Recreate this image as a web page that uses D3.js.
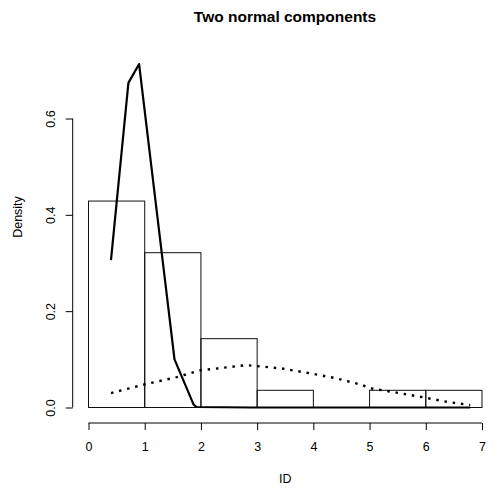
<!DOCTYPE html>
<html>
<head>
<meta charset="utf-8">
<script src="https://cdn.jsdelivr.net/npm/d3@7"></script>
<style>
  html, body { margin: 0; padding: 0; background: #fff; }
  svg { display: block; }
  text { font-family: "Liberation Sans", Arial, Helvetica, sans-serif; fill: #000; }
</style>
</head>
<body>
<svg id="chart" width="497" height="492"></svg>
<script>
// ---- data ----
const title = "Two normal components";
const xLabel = "ID";
const yLabel = "Density";
const binEdges = [0, 1, 2, 3, 4, 5, 6, 7];
const binDensity = [0.4286, 0.3214, 0.1429, 0.0357, 0, 0.0357, 0.0357];
const xTicks = [0, 1, 2, 3, 4, 5, 6, 7];
const yTicks = [0.0, 0.2, 0.4, 0.6];
const yTickLabels = ["0.0", "0.2", "0.4", "0.6"];
// first component (solid)
const solidX = [0.40, 0.71, 0.90, 1.53, 1.87, 1.92, 2.9, 3.6, 5.1, 6.0, 6.79];
const solidY = [0.306, 0.674, 0.713, 0.100, 0.006, 0.001, 0, 0, 0, 0, 0];
// second component (dotted)
const dottedX = [0.40, 1.00, 1.57, 1.98, 2.81, 3.44, 3.94, 4.39, 4.86, 5.01, 5.48, 5.96, 6.37, 6.79];
const dottedY = [0.030, 0.048, 0.063, 0.077, 0.088, 0.081, 0.071, 0.061, 0.047, 0.040, 0.031, 0.021, 0.012, 0.005];

// ---- layout ----
const svg = d3.select("#chart");
const x = d3.scaleLinear().domain([0, 7]).range([88.5, 482]);
const y = d3.scaleLinear().domain([0, 0.6]).range([407.5, 118.5]);
const axisY = 423;      // x-axis line position
const axisX = 72.7;     // y-axis line position
const plotLeft = 72.7, plotRight = 498;

// histogram bars
const bins = binDensity.map((d, i) => ({ x0: binEdges[i], x1: binEdges[i + 1], d }));
svg.append("g").selectAll("rect").data(bins).join("rect")
  .attr("x", b => x(b.x0))
  .attr("y", b => y(b.d))
  .attr("width", b => x(b.x1) - x(b.x0))
  .attr("height", b => y(0) - y(b.d))
  .attr("fill", "none")
  .attr("stroke", "#111")
  .attr("stroke-width", 1);

// curves
const line = d3.line().x(d => x(d[0])).y(d => y(d[1]));
svg.append("path")
  .datum(solidX.map((v, i) => [v, solidY[i]]))
  .attr("d", line)
  .attr("fill", "none")
  .attr("stroke", "#000")
  .attr("stroke-width", 2.2)
  .attr("stroke-linejoin", "round");
svg.append("path")
  .datum(dottedX.map((v, i) => [v, dottedY[i]]))
  .attr("d", line)
  .attr("fill", "none")
  .attr("stroke", "#000")
  .attr("stroke-width", 2.4)
  .attr("stroke-dasharray", "2.5,5.8");

// x axis
const gx = svg.append("g")
  .attr("transform", `translate(0,${axisY})`)
  .call(d3.axisBottom(x).tickValues(xTicks).tickSize(7).tickSizeOuter(0).tickPadding(12).tickFormat(d3.format("d")));
gx.selectAll("text").style("font-size", "12.5px").attr("fill", "#000");
gx.selectAll("line, path").attr("stroke", "#000");
gx.select(".domain").attr("d", `M${x(0)},0H${x(7)}`);

// y axis
const gy = svg.append("g")
  .attr("transform", `translate(${axisX},0)`)
  .call(d3.axisLeft(y).tickValues(yTicks).tickSize(7).tickSizeOuter(0).tickFormat((d, i) => yTickLabels[i]));
gy.selectAll("line, path").attr("stroke", "#000");
gy.select(".domain").attr("d", `M0,${y(0)}V${y(0.6)}`);
gy.selectAll("text")
  .attr("x", null).attr("dy", null)
  .attr("text-anchor", "middle")
  .attr("transform", "translate(-17.7,0) rotate(-90)")
  .style("font-size", "12.5px")
  .attr("fill", "#000");

// titles
svg.append("text")
  .attr("x", 285).attr("y", 21.7)
  .attr("text-anchor", "middle")
  .style("font-size", "15.5px").style("font-weight", "bold")
  .text(title);
svg.append("text")
  .attr("x", (plotLeft + plotRight) / 2).attr("y", 483)
  .attr("text-anchor", "middle")
  .style("font-size", "12.5px")
  .text(xLabel);
svg.append("text")
  .attr("transform", `translate(22,217) rotate(-90)`)
  .attr("text-anchor", "middle")
  .style("font-size", "12.5px")
  .text(yLabel);
</script>
</body>
</html>
